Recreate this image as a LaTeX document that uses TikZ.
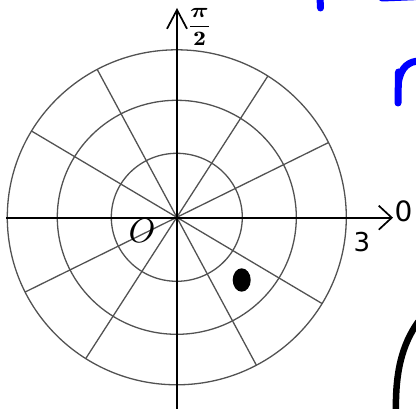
\documentclass[tikz,border=0pt]{standalone}
\usepackage{amsmath}
\usepackage{bm}
\usepackage{fontspec}
\newfontfamily\dejavu{DejaVu Sans}
\usetikzlibrary{arrows.meta}
\begin{document}
\begin{tikzpicture}[x=1pt,y=-1pt,
  grid/.style={draw=black!68, line width=1.3pt},
  axis/.style={draw=black, line width=1.7pt},
  pen/.style={draw=blue, line width=7pt, line cap=round},
  ink/.style={draw=black, line width=6.5pt, line cap=round}]
\useasboundingbox (0,0) rectangle (416,409);
\coordinate (C) at (176.8,217.3);
% rings
\draw[grid] (C) ellipse [x radius=65.5, y radius=64];
\draw[grid] (C) ellipse [x radius=119.5, y radius=117];
\draw[grid] (C) ellipse [x radius=169.5, y radius=167.5];
% spokes
\foreach \a in {31,62,122.5,153.5}{
  \draw[grid] ([shift={(\a:169.5 and 167.5)}]C) -- ([shift={(\a+180:169.5 and 167.5)}]C);
}
% axes
\coordinate (xs) at (6,217.7);
\coordinate (xe) at (393,217.7);
\coordinate (ys) at (177,412);
\coordinate (ye) at (177,8);
\draw[axis, -{Straight Barb[length=13pt,width=24pt]}] (xs) -- (xe);
\draw[axis, -{Straight Barb[length=19pt,width=20pt]}] (ys) -- (ye);
% labels
\node[xscale=2.6, yscale=2.05, inner sep=0pt] (pifrac) at (199.5,27) {$\dfrac{\bm{\pi}}{\mathbf{2}}$};
\node[font=\dejavu\fontsize{28}{30}\selectfont, inner sep=0pt] (zero) at (403.5,211) {0};
\node[font=\dejavu\fontsize{26}{30}\selectfont, inner sep=0pt] (three) at (362,242) {3};
\node[scale=3.4, inner sep=0pt] (O) at (142,231) {$O$};
% dot
\fill (241.7,280) ellipse [x radius=9, y radius=11.7];
% handwriting
\draw[pen] (320,-3) -- (320.5,8);
\draw[pen] (382,-2) -- (420,-3.5);
\draw[pen] (398,103) -- (398.5,72);
\draw[pen] (398.5,82) .. controls (401,67) and (409,61) .. (420,61);
\draw[ink] (418,322) .. controls (402,345) and (395,372) .. (396,414);
\end{tikzpicture}
\end{document}
